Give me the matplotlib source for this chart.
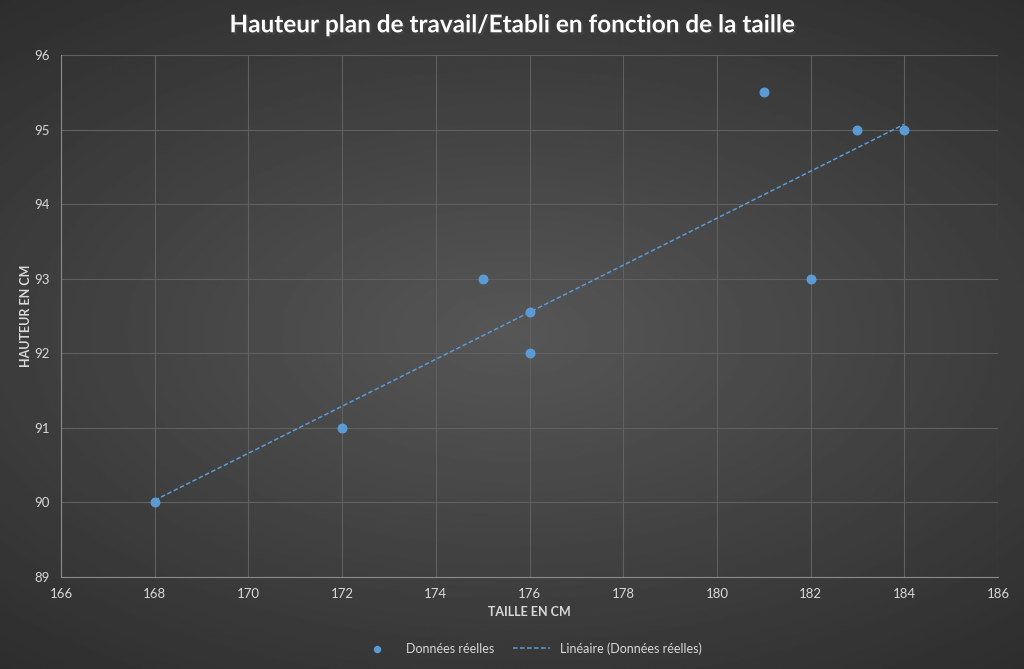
import numpy as np
import matplotlib
matplotlib.use("Agg")
import matplotlib.pyplot as plt
import matplotlib.patheffects as pe

plt.rcParams["font.family"] = ["Lato", "DejaVu Sans"]

# === DONNÉES ===
taille = [168, 172, 175, 176, 176, 181, 182, 183, 184]
hauteur = [90, 91, 93, 92.55, 92, 95.5, 93, 95, 95]
x_ticks = [166, 168, 170, 172, 174, 176, 178, 180, 182, 184, 186]
y_ticks = [89, 90, 91, 92, 93, 94, 95, 96]

bleu = "#5b9bd5"
txt = "#d9d9d9"

fig = plt.figure(figsize=(10.24, 6.69), dpi=100)

# fond dégradé (radial)
bg = fig.add_axes([0, 0, 1, 1], zorder=-10)
yy, xx = np.mgrid[-1:1:400j, -1:1:600j]
r = np.sqrt((xx * 0.8) ** 2 + (yy * 0.95) ** 2)
bg.imshow(0.34 - 0.13 * np.clip(r, 0, 1.3), cmap="gray", vmin=0, vmax=1,
          aspect="auto", extent=[0, 1, 0, 1])
bg.axis("off")

ax = fig.add_axes([0.0596, 0.1375, 0.915, 0.7803])
ax.set_facecolor("none")

ax.scatter(taille, hauteur, s=38, color=bleu, zorder=3, label="Données réelles")

# courbe de tendance linéaire
a, b = np.polyfit(taille, hauteur, 1)
xs = np.array([min(taille), max(taille)])
ax.plot(xs, a * xs + b, color=bleu, linestyle=(0, (3, 1.6)), linewidth=1.1,
        zorder=2, label="Linéaire (Données réelles)")

ax.set_xlim(166, 186)
ax.set_ylim(89, 96)
ax.set_xticks(x_ticks)
ax.set_yticks(y_ticks)
ax.grid(True, color="#606060", linewidth=0.8)
ax.set_axisbelow(True)
for s in ["top", "right"]:
    ax.spines[s].set_visible(False)
for s in ["left", "bottom"]:
    ax.spines[s].set_color("#8a8a8a")
ax.tick_params(colors=txt, labelsize=9.5, length=0, pad=8)

ax.set_xlabel("TAILLE EN CM", color=txt, fontsize=9, fontweight="bold", labelpad=4)
ax.set_ylabel("HAUTEUR EN CM", color=txt, fontsize=9, fontweight="bold", labelpad=2)

fig.text(0.5, 0.963, "Hauteur plan de travail/Etabli en fonction de la taille",
         ha="center", va="center", color="white", fontsize=17.5, fontweight="bold",
         path_effects=[pe.withSimplePatchShadow(offset=(1.5, -1.5), alpha=0.6)])

leg = fig.legend(loc="center", bbox_to_anchor=(0.518, 0.031), ncol=2, frameon=False,
                 fontsize=9, handlelength=3, columnspacing=1.5, markerscale=0.7)
for t in leg.get_texts():
    t.set_color(txt)

plt.savefig("out.png", dpi=100)
